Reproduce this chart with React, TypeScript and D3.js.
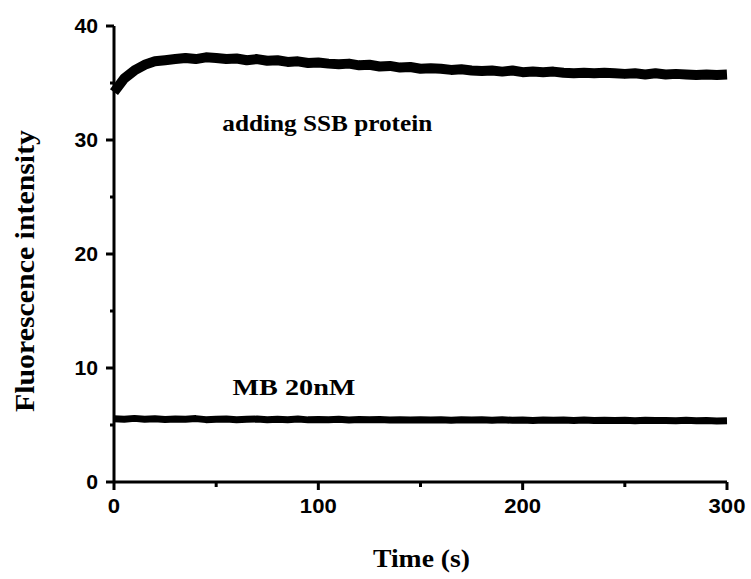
import React from "react";
import * as d3 from "d3";

const times: number[] = d3.range(0, 301, 5);
const ssbValues: number[] = [
  34.2, 35.4, 36.1, 36.6, 36.9, 37.0, 37.1, 37.2, 37.1, 37.25, 37.2, 37.1, 37.15, 37.0, 37.1, 36.95,
  37.0, 36.85, 36.9, 36.75, 36.8, 36.7, 36.65, 36.7, 36.55, 36.6, 36.45, 36.5, 36.35, 36.4, 36.25, 36.3,
  36.25, 36.15, 36.2, 36.1, 36.05, 36.1, 36.0, 36.1, 35.95, 36.0, 35.95, 36.0, 35.9, 35.85, 35.9, 35.85,
  35.9, 35.85, 35.8, 35.85, 35.75, 35.85, 35.75, 35.8, 35.75, 35.7, 35.75, 35.7, 35.75,
];
const mbValues: number[] = [
  5.55, 5.5, 5.58, 5.5, 5.55, 5.48, 5.52, 5.5, 5.56, 5.47, 5.5, 5.53, 5.46, 5.5, 5.52, 5.46,
  5.5, 5.47, 5.52, 5.45, 5.49, 5.46, 5.5, 5.44, 5.48, 5.45, 5.49, 5.44, 5.47, 5.43, 5.47, 5.44,
  5.46, 5.42, 5.46, 5.43, 5.45, 5.41, 5.45, 5.42, 5.44, 5.4, 5.44, 5.41, 5.43, 5.4, 5.43, 5.39,
  5.42, 5.4, 5.41, 5.38, 5.42, 5.39, 5.4, 5.37, 5.41, 5.38, 5.39, 5.36, 5.38,
];
const xTicks: number[] = [0, 100, 200, 300];
const xMinorTicks: number[] = [50, 150, 250];
const yTicks: number[] = [0, 10, 20, 30, 40];
const yMinorTicks: number[] = [5, 15, 25, 35];
const xTitle = "Time (s)";
const yTitle = "Fluorescence intensity";
const annotations = [
  { text: "adding SSB protein", t: 53, v: 30.75, len: 210 },
  { text: "MB 20nM", t: 58, v: 7.6, len: 123 },
];

export default function App() {
  const W = 751, H = 579;
  const x = d3.scaleLinear().domain([0, 300]).range([114, 727]);
  const y = d3.scaleLinear().domain([0, 40]).range([482, 26]);
  const line = d3
    .line<number>()
    .x((_, i) => x(times[i]))
    .y((d) => y(d))
    .curve(d3.curveLinear);
  const tickFont = "'Liberation Sans', Arial, sans-serif";
  const serif = "'Liberation Serif', 'Times New Roman', serif";
  return (
    <svg width={W} height={H} style={{ position: "absolute", left: 0, top: 0, background: "#fff" }}>
      <path d={line(ssbValues) || ""} fill="none" stroke="#000" strokeWidth={10} strokeLinejoin="round" strokeLinecap="butt" />
      <path d={line(mbValues) || ""} fill="none" stroke="#000" strokeWidth={7} strokeLinejoin="round" strokeLinecap="butt" />
      {/* axes */}
      <line x1={x(0)} x2={x(0)} y1={y(40)} y2={y(0)} stroke="#000" strokeWidth={3} />
      <line x1={x(0)} x2={x(300)} y1={y(0)} y2={y(0)} stroke="#000" strokeWidth={3} />
      {yTicks.map((t) => (
        <g key={"y" + t}>
          <line x1={x(0) - 8} x2={x(0)} y1={y(t)} y2={y(t)} stroke="#000" strokeWidth={3} />
          <text
            x={x(0) - 16}
            y={y(t)}
            dy="0.36em"
            textAnchor="end"
            fontFamily={tickFont}
            fontWeight="bold"
            fontSize={20}
            textLength={String(t).length * 11.8}
            lengthAdjust="spacingAndGlyphs"
          >
            {t}
          </text>
        </g>
      ))}
      {yMinorTicks.map((t) => (
        <line key={"ym" + t} x1={x(0) - 4} x2={x(0)} y1={y(t)} y2={y(t)} stroke="#000" strokeWidth={3} />
      ))}
      {xTicks.map((t) => (
        <g key={"x" + t}>
          <line x1={x(t)} x2={x(t)} y1={y(0)} y2={y(0) + 8} stroke="#000" strokeWidth={3} />
          <text
            x={x(t)}
            y={y(0) + 31}
            textAnchor="middle"
            fontFamily={tickFont}
            fontWeight="bold"
            fontSize={21}
            textLength={String(t).length * 12.3}
            lengthAdjust="spacingAndGlyphs"
          >
            {t}
          </text>
        </g>
      ))}
      {xMinorTicks.map((t) => (
        <line key={"xm" + t} x1={x(t)} x2={x(t)} y1={y(0)} y2={y(0) + 5} stroke="#000" strokeWidth={3} />
      ))}
      <text
        x={373}
        y={567}
        fontFamily={serif}
        fontWeight="bold"
        fontSize={25}
        textLength={97}
        lengthAdjust="spacingAndGlyphs"
      >
        {xTitle}
      </text>
      <text
        transform={`translate(34, 412) rotate(-90)`}
        fontFamily={serif}
        fontWeight="bold"
        fontSize={27}
        textLength={282}
        lengthAdjust="spacingAndGlyphs"
      >
        {yTitle}
      </text>
      {annotations.map((a) => (
        <text
          key={a.text}
          x={x(a.t)}
          y={y(a.v)}
          fontFamily={serif}
          fontWeight="bold"
          fontSize={24}
          textLength={a.len}
          lengthAdjust="spacingAndGlyphs"
        >
          {a.text}
        </text>
      ))}
    </svg>
  );
}
